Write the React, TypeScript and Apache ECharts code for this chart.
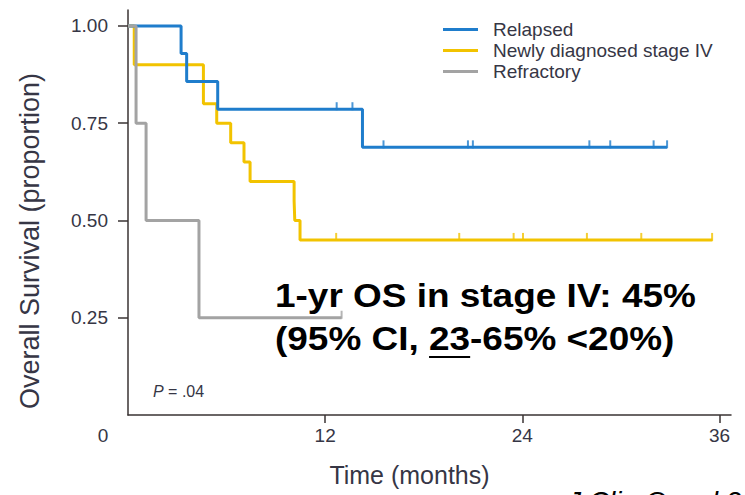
import React, { useEffect, useRef } from 'react';
import * as echarts from 'echarts';

// Kaplan–Meier overall survival by disease status
const groupNames = ['Relapsed', 'Newly diagnosed stage IV', 'Refractory'];
const groupColors = ['#1f7dcc', '#f2c300', '#a3a3a3'];

// step points: time in months, survival proportion after the event
const relapsedTimes = [0, 3.23, 3.57, 5.46, 14.27, 32.8];
const relapsedSurvival = [1.0, 0.929, 0.857, 0.786, 0.688, 0.688];
const relapsedCensored = [12.7, 13.66, 15.55, 20.69, 20.99, 28.08, 29.35, 31.99, 32.81];

const stageIVTimes = [0, 0.38, 4.59, 5.4, 6.25, 7.06, 7.43, 10.11, 10.15, 10.47, 35.57];
const stageIVSurvival = [1.0, 0.9, 0.8, 0.75, 0.7, 0.65, 0.6, 0.55, 0.5, 0.45, 0.45];
const stageIVCensored = [12.67, 20.16, 23.47, 24.04, 27.93, 31.24, 35.55];

const refractoryTimes = [0, 0.49, 1.1, 4.32, 13.0];
const refractorySurvival = [1.0, 0.75, 0.5, 0.25, 0.25];
const refractoryCensored = [13.0];

const xTickValues = [0, 12, 24, 36];
const yTickValues = [0.25, 0.5, 0.75, 1.0];

const annotationLine1 = '1-yr OS in stage IV: 45%';
const annotationPrefix = '(95% CI, ';
const annotationUnderlined = '23';
const annotationSuffix = '-65% <20%)';
const pValueText = '.04';
const citationText = 'J Clin Oncol 2011';

const FONT = "'Liberation Sans', Arial, Helvetica, sans-serif";

function survivalAt(times: number[], surv: number[], t: number): number {
  let s = surv[0];
  for (let i = 0; i < times.length; i++) {
    if (times[i] <= t) s = surv[i];
  }
  return s;
}

function curve(times: number[], surv: number[]) {
  return times.map((t, i) => [t, surv[i]]);
}

function censorMarks(times: number[], surv: number[], censored: number[]) {
  return censored.map((t) => [t, survivalAt(times, surv, t)]);
}

function measure(text: string, font: string): number {
  const ctx = document.createElement('canvas').getContext('2d');
  if (!ctx) return text.length * 18;
  ctx.font = font;
  return ctx.measureText(text).width;
}

export default function App() {
  const ref = useRef<HTMLDivElement>(null);

  useEffect(() => {
    if (!ref.current) return;
    const chart = echarts.init(ref.current, undefined, { renderer: 'svg' });

    const groups = [
      { times: relapsedTimes, surv: relapsedSurvival, cens: relapsedCensored },
      { times: stageIVTimes, surv: stageIVSurvival, cens: stageIVCensored },
      { times: refractoryTimes, surv: refractorySurvival, cens: refractoryCensored },
    ];
    // draw order: stage IV, relapsed, refractory on top
    const drawOrder = [1, 0, 2];

    const lineSeries = drawOrder.map((g) => ({
      name: groupNames[g],
      type: 'line',
      step: 'end',
      data: curve(groups[g].times, groups[g].surv),
      showSymbol: false,
      symbol: 'none',
      color: groupColors[g],
      lineStyle: { color: groupColors[g], width: 3 },
      z: 2,
    }));
    const censorSeries = drawOrder.map((g) => ({
      name: groupNames[g],
      type: 'scatter',
      data: censorMarks(groups[g].times, groups[g].surv, groups[g].cens),
      symbol: 'rect',
      symbolSize: [2, 8],
      symbolOffset: [0, -3],
      color: groupColors[g],
      itemStyle: { color: groupColors[g] },
      z: 3,
    }));

    // bold annotation, drawn slightly widened
    const boldFont = `bold 33px ${FONT}`;
    const stretch = 1.12;
    const annX = 275;
    const line1Y = 295;
    const line2Y = 338;
    const prefixW = measure(annotationPrefix, boldFont) * stretch;
    const underW = measure(annotationUnderlined, boldFont) * stretch;

    const axisColor = '#3a3333';
    const labelColor = '#363645';

    chart.setOption({
      animation: false,
      backgroundColor: '#ffffff',
      grid: { left: 128, top: 10, width: 603, height: 405 },
      legend: {
        data: groupNames,
        orient: 'vertical',
        left: 443,
        top: 19,
        padding: 0,
        itemGap: 0,
        itemWidth: 35,
        itemHeight: 3,
        icon: 'rect',
        textStyle: {
          fontFamily: FONT,
          fontSize: 19,
          lineHeight: 21,
          color: labelColor,
          padding: [0, 0, 0, 10],
        },
      },
      xAxis: {
        type: 'value',
        min: 0,
        max: 36.7,
        name: 'Time (months)',
        nameLocation: 'middle',
        nameGap: 47,
        nameTextStyle: {
          fontFamily: FONT,
          fontSize: 25,
          color: labelColor,
          padding: [0, 40, 0, 0],
        },
        axisLine: { show: true, lineStyle: { color: axisColor, width: 1.5 } },
        axisTick: {
          show: true,
          length: 8,
          customValues: [12, 24, 36],
          lineStyle: { color: axisColor, width: 1.5 },
        },
        axisLabel: {
          customValues: xTickValues,
          margin: 11,
          fontFamily: FONT,
          fontSize: 19,
          color: labelColor,
          formatter: (v: number) => (v === 0 ? '{z|0}' : String(v)),
          rich: {
            z: { fontFamily: FONT, fontSize: 19, color: labelColor, padding: [0, 50, 0, 0] },
          },
        },
        splitLine: { show: false },
      },
      yAxis: {
        type: 'value',
        min: 0,
        max: 1.041,
        axisLine: { show: true, lineStyle: { color: axisColor, width: 1.5 } },
        axisTick: {
          show: true,
          length: 10,
          customValues: yTickValues,
          lineStyle: { color: axisColor, width: 1.5 },
        },
        axisLabel: {
          customValues: yTickValues,
          margin: 20,
          fontFamily: FONT,
          fontSize: 19,
          color: labelColor,
          formatter: (v: number) => v.toFixed(2),
        },
        splitLine: { show: false },
      },
      graphic: [
        {
          type: 'text',
          x: 30,
          y: 241,
          rotation: Math.PI / 2,
          style: {
            text: 'Overall Survival (proportion)',
            font: `27px ${FONT}`,
            fill: labelColor,
            align: 'center',
            verticalAlign: 'middle',
          },
        },
        {
          type: 'text',
          x: annX,
          y: line1Y,
          scaleX: stretch,
          style: {
            text: annotationLine1,
            font: boldFont,
            fill: '#000000',
            align: 'left',
            verticalAlign: 'middle',
          },
          z: 10,
        },
        {
          type: 'text',
          x: annX,
          y: line2Y,
          scaleX: stretch,
          style: {
            text: annotationPrefix + annotationUnderlined + annotationSuffix,
            font: boldFont,
            fill: '#000000',
            align: 'left',
            verticalAlign: 'middle',
          },
          z: 10,
        },
        {
          type: 'line',
          shape: {
            x1: annX + prefixW,
            y1: line2Y + 19,
            x2: annX + prefixW + underW,
            y2: line2Y + 19,
          },
          style: { stroke: '#000000', lineWidth: 2 },
          z: 10,
        },
        {
          type: 'text',
          x: 153,
          y: 391,
          style: {
            text: '{i|P} = ' + pValueText,
            font: `16px ${FONT}`,
            fill: labelColor,
            align: 'left',
            verticalAlign: 'middle',
            rich: {
              i: { fontStyle: 'italic', fontFamily: FONT, fontSize: 16, fill: labelColor },
            },
          },
        },
        {
          type: 'text',
          x: 567,
          y: 487,
          style: {
            text: citationText,
            font: `italic 28px ${FONT}`,
            fill: '#000000',
            align: 'left',
            verticalAlign: 'top',
          },
        },
      ],
      series: [...lineSeries, ...censorSeries],
    });

    return () => chart.dispose();
  }, []);

  return (
    <div
      ref={ref}
      style={{ position: 'fixed', left: 0, top: 0, width: 745, height: 495, background: '#fff' }}
    />
  );
}
